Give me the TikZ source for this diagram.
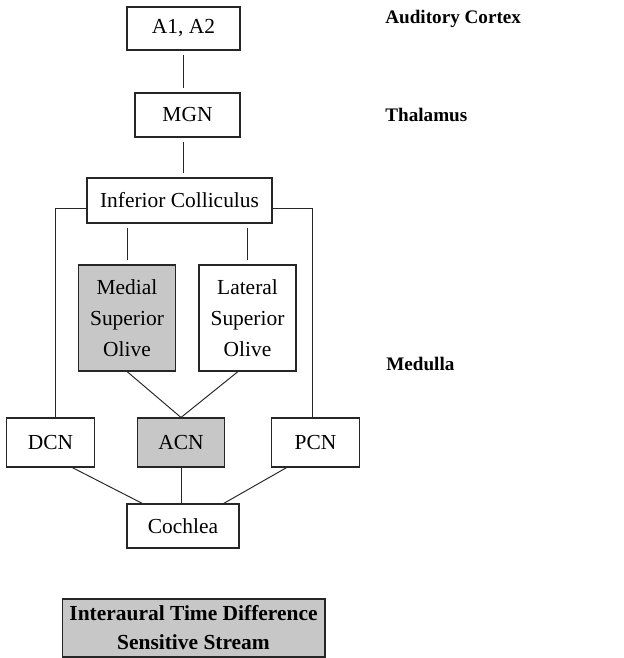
\documentclass[tikz,border=0pt]{standalone}
\usepackage{fontspec}
\setmainfont{Liberation Serif}

\tikzset{
  box/.style={draw=black!85, line width=0.6pt, fill=white, align=center,
    inner sep=0pt, font=\fontsize{12.2}{17.5}\selectfont},
  graybox/.style={box, fill=black!22},
  level/.style={anchor=west, inner sep=0pt, font=\fontsize{10.9}{13}\selectfont\bfseries},
  link/.style={draw=black!85, line width=0.55pt},
  gap/.style={shorten <=2.3pt, shorten >=2.3pt},
}

\begin{document}
\begin{tikzpicture}[x=0.02cm, y=-0.02cm]
    \useasboundingbox (0,0) rectangle (624,658);

    % Cortex, thalamus, midbrain
    \node[box, minimum width=2.26cm, minimum height=0.86cm] (a12) at (183.5,28.5) {A1, A2};
    \node[box, minimum width=2.10cm, minimum height=0.88cm] (mgn) at (187.5,115) {MGN};
    \node[box, minimum width=3.70cm, minimum height=0.90cm] (ic) at (179.5,200.5) {Inferior Colliculus};

    % Olives
    \node[graybox, minimum width=1.94cm, minimum height=2.12cm] (mso) at (127,318) {Medial\\Superior\\Olive};
    \node[box, minimum width=1.94cm, minimum height=2.12cm] (lso) at (247.5,318) {Lateral\\Superior\\Olive};

    % Cochlear nuclei
    \node[box, minimum width=1.75cm, minimum height=0.98cm] (dcn) at (50.5,442.5) {DCN};
    \node[graybox, minimum width=1.75cm, minimum height=0.98cm] (acn) at (181,442.5) {ACN};
    \node[box, minimum width=1.75cm, minimum height=0.98cm] (pcn) at (315.5,442.5) {PCN};
    \node[box, minimum width=2.24cm, minimum height=0.88cm] (coch) at (183,526) {Cochlea};

    % Levels on the right
    \node[level] (cortex) at (385,19) {Auditory Cortex};
    \node[level] (thal) at (385,115) {Thalamus};
    \node[level] (med) at (386,364) {Medulla};

    % Legend
    \node[graybox, minimum width=5.26cm, minimum height=1.16cm,
      font=\fontsize{12.2}{16.5}\selectfont\bfseries] (itd) at (193.5,628)
      {Interaural Time Difference\\Sensitive Stream};

    % Connections
    \coordinate (dtop) at (55,418);
    \coordinate (ptop) at (312,418);
    \draw[link, gap] (a12.south) -- (a12.south |- mgn.north);
    \draw[link, gap] (a12.south |- mgn.south) -- (a12.south |- ic.north);
    \draw[link, gap] (mso.north |- ic.south) -- (mso.north);
    \draw[link, gap] (lso.north |- ic.south) -- (lso.north);
    \draw[link] (ic.185) -| (dtop);
    \draw[link] (ic.-5) -| (ptop);
    \draw[link] (mso.south) -- (acn.north);
    \draw[link] (lso.-100) -- (acn.north);
    \draw[link] (acn.south) -- (acn.south |- coch.north);
    \draw[link] (dcn.-49) -- (coch.151);
    \draw[link] (pcn.-139) -- (coch.29);
\end{tikzpicture}
\end{document}
